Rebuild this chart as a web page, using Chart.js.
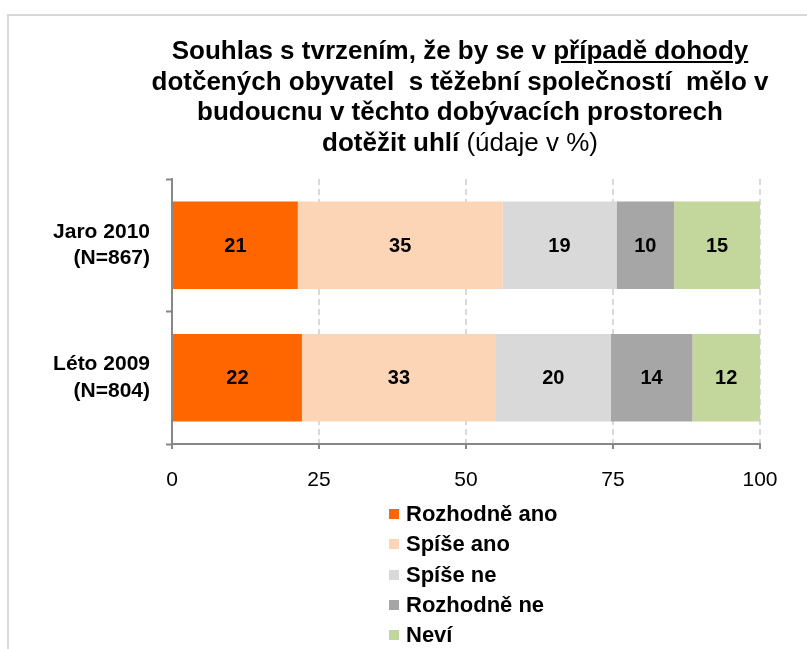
<!DOCTYPE html>
<html><head><meta charset="utf-8">
<script src="https://cdn.jsdelivr.net/npm/chart.js@4.4.0/dist/chart.umd.min.js"></script>
<style>
html,body{margin:0;padding:0;background:#fff;}
#wrap{position:relative;width:807px;height:649px;overflow:hidden;font-family:"Liberation Sans",Arial,sans-serif;color:#000;}
#frame{position:absolute;left:7px;top:14px;width:900px;height:700px;border-left:2px solid #d9d9d9;border-top:2px solid #d9d9d9;}
#title{position:absolute;left:60px;width:800px;top:35px;text-align:center;font-weight:bold;font-size:26px;line-height:30.7px;white-space:pre;}
#title .u{text-decoration:underline;}
#title .n{font-weight:normal;}
canvas{position:absolute;left:0;top:0;}
#legend{position:absolute;left:389px;top:499px;}
#legend .row{height:30.3px;display:flex;align-items:center;font-weight:bold;font-size:22px;white-space:nowrap;}
#legend .sw{width:10px;height:10px;margin-right:7px;flex:none;}
</style>
</head><body>
<div id="wrap">
<div id="frame"></div>
<canvas id="c" width="807" height="649"></canvas>
<div id="title">Souhlas s tvrzením, že by se v <span class="u">případě dohody</span>
dotčených obyvatel  s těžební společností  mělo v
budoucnu v těchto dobývacích prostorech
dotěžit uhlí <span class="n">(údaje v %)</span></div>
<div id="legend"></div>
</div>
<script>
const categories = [['Jaro 2010','(N=867)'],['Léto 2009','(N=804)']];
const seriesNames = ['Rozhodně ano','Spíše ano','Spíše ne','Rozhodně ne','Neví'];
const rozhodneAno = [21.4, 22.1];
const spiseAno    = [34.8, 33.0];
const spiseNe     = [19.4, 19.5];
const rozhodneNe  = [9.8, 13.9];
const nevi        = [14.6, 11.5];
const xTicks = [0, 25, 50, 75, 100];
const seriesColors = ['#FF6600','#FBD5B5','#D9D9D9','#A6A6A6','#C3D69B'];

const FONT = '"Liberation Sans", Arial, sans-serif';
Chart.defaults.font.family = FONT;
Chart.defaults.color = '#000';

const seriesData = [rozhodneAno, spiseAno, spiseNe, rozhodneNe, nevi];
const datasets = seriesNames.map((n,i)=>({
  label:n, data:seriesData[i], backgroundColor:seriesColors[i], borderWidth:0,
  categoryPercentage:1, barPercentage:0.66
}));

const segLabels = {
  id:'segLabels',
  afterDatasetsDraw(chart){
    const ctx = chart.ctx;
    ctx.save();
    ctx.font = 'bold 20px ' + FONT;
    ctx.fillStyle = '#000';
    ctx.textAlign = 'center';
    ctx.textBaseline = 'middle';
    chart.data.datasets.forEach((ds,i)=>{
      chart.getDatasetMeta(i).data.forEach((bar,j)=>{
        ctx.fillText(String(Math.round(ds.data[j])), (bar.x+bar.base)/2, bar.y+1);
      });
    });
    ctx.restore();
  }
};

const chart = new Chart(document.getElementById('c'), {
  type:'bar',
  data:{labels:categories, datasets},
  options:{
    indexAxis:'y', responsive:false, animation:false, devicePixelRatio:1,
    layout:{padding:{top:179, right:47, bottom:145, left:0}},
    plugins:{legend:{display:false}, title:{display:false}, tooltip:{enabled:false}},
    scales:{
      x:{
        type:'linear', stacked:true, min:0, max:100,
        afterBuildTicks(s){ s.ticks = xTicks.map(v=>({value:v})); },
        afterFit(s){ s.height = 60; },
        ticks:{font:{size:21}, color:'#000', padding:19},
        grid:{color:'#d9d9d9', lineWidth:2, drawTicks:true, tickLength:5, tickColor:'#888', tickWidth:2, tickBorderDash:[]},
        border:{display:true, color:'#888', width:2, dash:[6,4]}
      },
      y:{
        type:'category', stacked:true,
        afterFit(s){ s.width = 172; },
        ticks:{font:{size:21, weight:'bold', lineHeight:1.25}, color:'#000', padding:16},
        grid:{drawOnChartArea:false, drawTicks:true, tickLength:6, tickColor:'#888', tickWidth:2, offset:true},
        border:{display:true, color:'#888', width:2}
      }
    }
  },
  plugins:[segLabels]
});

const leg = document.getElementById('legend');
chart.data.datasets.forEach(ds=>{
  const r = document.createElement('div'); r.className='row';
  const sw = document.createElement('span'); sw.className='sw'; sw.style.background = ds.backgroundColor;
  const t = document.createElement('span'); t.textContent = ds.label;
  r.appendChild(sw); r.appendChild(t); leg.appendChild(r);
});
</script>
</body></html>
